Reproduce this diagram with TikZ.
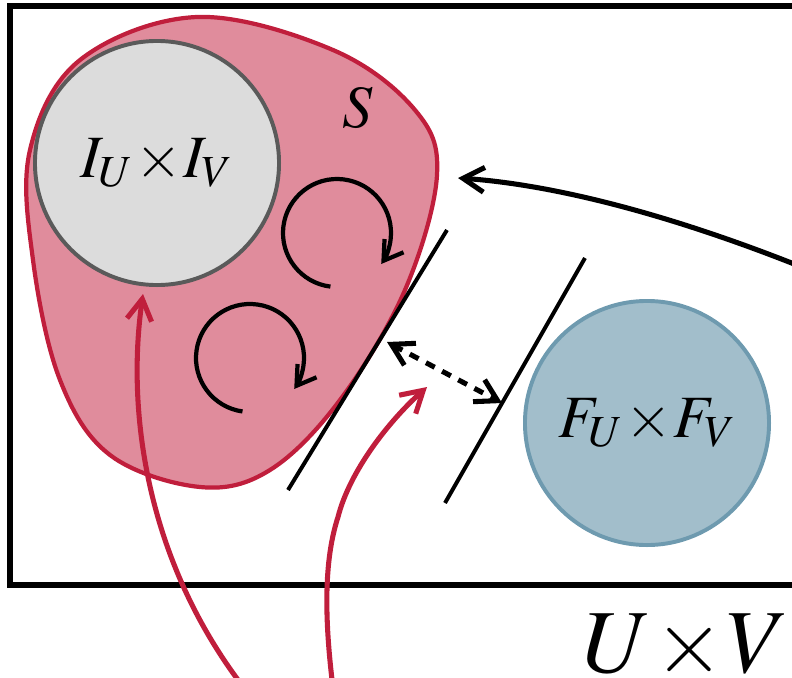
\documentclass[tikz,border=0pt]{standalone}
\usepackage{mathptmx}
\usetikzlibrary{arrows.meta}
\definecolor{setpink}{RGB}{224,140,156}
\definecolor{setred}{RGB}{192,30,60}
\definecolor{initgrey}{RGB}{220,220,220}
\definecolor{initedge}{RGB}{90,90,90}
\definecolor{finblue}{RGB}{162,190,203}
\definecolor{finedge}{RGB}{110,154,175}
\newcommand{\tms}{\mkern-2mu\times\mkern-2mu}

\begin{document}
\begin{tikzpicture}[x=0.025cm,y=-0.025cm,
   redarrow/.style={draw=setred,line width=3.6pt,-{Straight Barb[length=5.3mm,width=6.2mm]}},
   blackarrow/.style={line width=3.6pt,-{Straight Barb[length=5.3mm,width=6.2mm]}},
   spin/.style={line width=3pt,-{Straight Barb[length=4.6mm,width=5.8mm]}},
   setdisc/.style={circle,line width=2.8pt,minimum size=6.1cm,inner sep=0pt},
   bigmath/.style={font=\fontsize{42.7}{50}\selectfont},
   wall/.style={line width=2.8pt}]
  \useasboundingbox (0,0) rectangle (792,678);
  \clip (0,0) rectangle (792,678);
  % the frame U x V
  \draw[line width=4pt] (10,6) rectangle (860,585);
  \node[anchor=base west,font=\fontsize{64}{70}\selectfont] (uv) at (578,672) {$U\tms V$};
  % the set S
  \draw[setred,fill=setpink,line width=3pt] plot[smooth cycle,tension=0.6] coordinates
     {(197,17) (333,50) (415,110) (437,175) (405,290) (340,400) (270,470) (200,487)
      (110,455) (60,380) (33,260) (30,150) (80,60)};
  \node[bigmath] (s) at (358,108) {$S$};
  \node[setdisc,draw=initedge,fill=initgrey,bigmath] (iu) at (157,163) {$I_U\tms I_V$};
  \node[setdisc,draw=finedge,fill=finblue,bigmath] (fu) at (647,423) {$F_U\tms F_V$};
  % loops inside S
  \draw[spin] (337,233) ++(97:54) arc (97:395:54);
  \draw[spin] (250,358) ++(98:54) arc (98:395:54);
  % the two walls
  \coordinate (wa1) at (447,230); \coordinate (wa2) at (288,490);
  \coordinate (wb1) at (585,258); \coordinate (wb2) at (445,503);
  \draw[wall] (wa1) -- (wa2);
  \draw[wall] (wb1) -- (wb2);
  \coordinate (gapl) at (387,342); \coordinate (gapr) at (502,403);
  \draw[line width=3.6pt,dash pattern=on 7pt off 6pt,
        {Straight Barb[length=5.3mm,width=6.2mm]}-{Straight Barb[length=5.3mm,width=6.2mm]}]
        (gapl) -- (gapr);
  % arrow coming from the right
  \coordinate (outer) at (880,300);
  \coordinate (sright) at (458,178);
  \draw[blackarrow] (outer) .. controls (700,220) and (560,185) .. (sright);
  % red arrows from below
  \coordinate (lowl) at (262,710);
  \coordinate (tipi) at (143,294);
  \draw[redarrow] (lowl) .. controls (150,580) and (125,420) .. (tipi);
  \coordinate (lowr) at (336,710);
  \coordinate (tipg) at (427,387);
  \draw[redarrow] (lowr) .. controls (323,620) and (324,560) .. (338,517)
                  .. controls (350,470) and (390,420) .. (tipg);
\end{tikzpicture}
\end{document}
